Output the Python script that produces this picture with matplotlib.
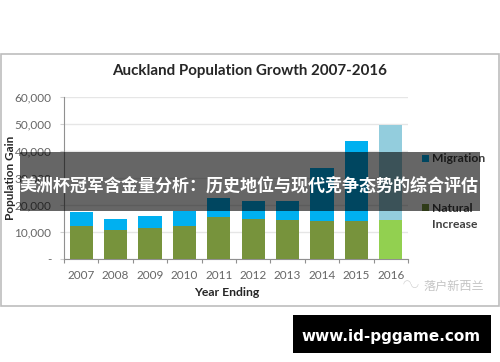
# -*- coding: utf-8 -*-
import matplotlib
matplotlib.use('Agg')
import matplotlib.pyplot as plt
from matplotlib.patches import Rectangle

years = ['2007', '2008', '2009', '2010', '2011', '2012', '2013', '2014', '2015', '2016']
natural = [12300, 10700, 11300, 12400, 15500, 15000, 14500, 14000, 14200, 14500]
migration = [5000, 4200, 4700, 5400, 7000, 6500, 7000, 19800, 29500, 35100]
yticks = [0, 10000, 20000, 30000, 40000, 50000, 60000]
ylabels = ['-', '10,000', '20,000', '30,000', '40,000', '50,000', '60,000']

W = 500
H = 362
plt.rcParams['font.family'] = ['Lato', 'Noto Sans CJK SC', 'DejaVu Sans']

fig = plt.figure(figsize=(W / 100, H / 100), dpi=100)
fig.patch.set_facecolor('white')


def box(x0, y0, x1, y1, **kw):
    # pixel box, y counted from the top of the picture
    r = Rectangle((x0 / W, 1 - y1 / H), (x1 - x0) / W, (y1 - y0) / H, transform=fig.transFigure, **kw)
    fig.add_artist(r)
    return r


def label(x, y, s, **kw):
    return fig.text(x / W, 1 - y / H, s, **kw)


# frame goes behind the axes
box(1, 53.5, 499, 306, facecolor='white', edgecolor='#bdbdbd', linewidth=1.2, zorder=-1)

ax = fig.add_axes([64 / W, 1 - 259 / H, 344 / W, 162 / H])
ax.patch.set_alpha(0)
x = list(range(len(years)))
nat_colors = ['#77933c'] * 9 + ['#92d050']
mig_colors = ['#00b0f0'] * 9 + ['#93cddd']
ax.bar(x, natural, width=0.68, color=nat_colors, zorder=3)
ax.bar(x, migration, width=0.68, bottom=natural, color=mig_colors, zorder=3)
ax.set_xlim(-0.5, 9.5)
ax.set_ylim(0, 60000)
ax.set_yticks(yticks)
ax.set_yticklabels(ylabels)
ax.set_xticks(x)
ax.set_xticklabels(years)
ax.set_xticks([i - 0.5 for i in range(11)], minor=True)
ax.tick_params(axis='x', which='major', length=0, labelsize=8.5, labelcolor='#666666', pad=8)
ax.tick_params(axis='x', which='minor', length=3, color='#909090', width=0.8)
ax.tick_params(axis='y', length=3, color='#d0d0d0', labelsize=8.5, labelcolor='#666666', pad=6)
ax.grid(axis='y', color='#e6e6e6', linewidth=1, zorder=0)
for s in ['top', 'right']:
    ax.spines[s].set_visible(False)
ax.spines['left'].set_color('#909090')
ax.spines['bottom'].set_color('#909090')
ax.spines['left'].set_linewidth(0.8)
ax.spines['bottom'].set_linewidth(0.8)

label(250, 71, 'Auckland Population Growth 2007-2016', fontsize=10.9, fontweight='bold', color='#262626', ha='center', va='center')
label(227, 293, 'Year Ending', fontsize=8.8, fontweight='bold', color='#262626', ha='center', va='center')
label(10.5, 178, 'Population Gain', fontsize=8.5, fontweight='bold', color='#262626', ha='center', va='center', rotation=90)

# legend
box(422, 155, 429, 162, facecolor='#00b0f0', edgecolor='none')
box(422, 204, 429, 211, facecolor='#77933c', edgecolor='none')
label(432, 158.5, 'Migration', fontsize=8.7, fontweight='bold', color='#404040', va='center')
label(432, 208, 'Natural', fontsize=8.7, fontweight='bold', color='#404040', va='center')
label(432, 224, 'Increase', fontsize=8.7, fontweight='bold', color='#404040', va='center')

# watermark
label(423, 286, '落户新西兰', fontsize=8.7, color='#c4c4c4', va='center')
label(411, 285, '◠◡', fontsize=7, color='#cfcfcf', ha='center', va='center')

# banner across the chart
box(20, 152, 480, 211, facecolor='black', edgecolor='none', alpha=0.6, zorder=5)
label(249, 186, '美洲杯冠军含金量分析：历史地位与现代竞争态势的综合评估', fontsize=12.25, fontweight='bold', color='white',
      ha='center', va='center', family=['Noto Sans CJK SC', 'DejaVu Sans'], zorder=6)

# site box
box(293, 315, 491, 353, facecolor='black', edgecolor='none', zorder=5)
label(391.5, 336, 'www.id-pggame.com', fontsize=11, fontweight='bold', color='white', ha='center', va='center',
      family=['DejaVu Sans'], zorder=6)

fig.savefig('out.png', dpi=100)
